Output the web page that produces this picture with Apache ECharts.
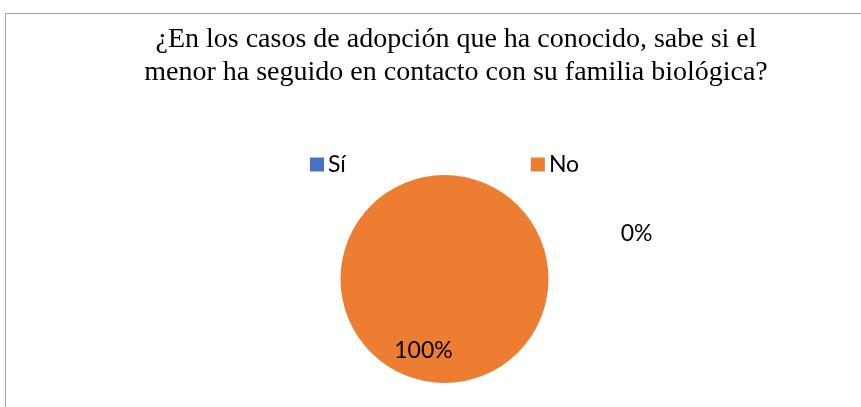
<!DOCTYPE html>
<html><head><meta charset="utf-8">
<script src="https://cdn.jsdelivr.net/npm/echarts@6/dist/echarts.min.js"></script>
<style>
html,body{margin:0;padding:0;background:#fff;}
#frame{position:absolute;left:5px;top:13px;width:900px;height:450px;border:1px solid #a6a6a6;box-sizing:border-box;pointer-events:none;}
#c{position:absolute;left:0;top:0;width:861px;height:407px;}
</style></head>
<body>
<div id="c"></div>
<div id="frame"></div>
<script>
var titleText = "¿En los casos de adopción que ha conocido, sabe si el\nmenor ha seguido en contacto con su familia biológica?";
var categories = ["Sí", "No"];
var values = [0, 100];
var colors = ["#4472C4", "#ED7D31"];

var chart = echarts.init(document.getElementById('c'));
chart.setOption({
  animation: false,
  title: {
    text: titleText, left: 451, textAlign: 'center', top: 18,
    textStyle: {fontFamily: 'Liberation Serif', fontSize: 28, fontWeight: 'normal', color: '#000', lineHeight: 33}
  },
  legend: {
    data: categories, left: 305, top: 148, itemGap: 185,
    itemWidth: 14, itemHeight: 14, icon: 'rect',
    textStyle: {fontFamily: 'Lato', fontSize: 23, color: '#000', padding: [0,0,0,-1]}
  },
  series: [{
    type: 'pie', center: [444.5, 279], radius: 104, startAngle: 90, clockwise: true,
    minShowLabelAngle: 0, avoidLabelOverlap: false,
    data: categories.map(function(n,i){
      return {name: n, value: values[i], itemStyle: {color: colors[i]},
        label: i === 0 ? {position: 'outside', offset: [243, 74]} : {position: 'inside', offset: [-21, 17]},
        labelLine: {show: false}};
    }),
    label: {show: true, formatter: '{d}%', fontFamily: 'Lato', fontSize: 23, color: '#000'},
    labelLine: {show: false}
  }]
});
</script>
</body></html>
